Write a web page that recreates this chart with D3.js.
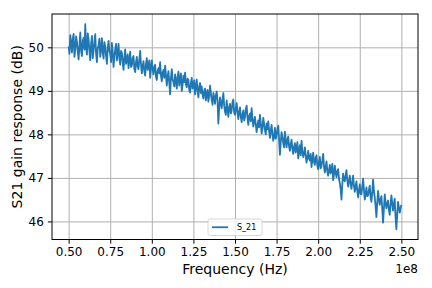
<!DOCTYPE html>
<html>
<head>
<meta charset="utf-8">
<script src="https://cdn.jsdelivr.net/npm/d3@7"></script>
<style>
  body { margin: 0; background: #fff; }
  svg { display: block; font-family: "DejaVu Sans", sans-serif; }
</style>
</head>
<body>
<script>
// sweep: 0.5e8 .. 2.5e8 Hz, 0.5 MHz step
var freqStart = 0.5e8
var freqStep = 0.5e6

// S21 (dB), 20 values per row = 10 MHz
var s21 = [
  50.02, 49.85, 50.28, 50.10, 49.88, 50.20, 50.31, 49.78, 49.95, 50.25, 50.12, 49.90, 49.72, 50.05, 50.34, 49.92, 49.80, 50.15, 50.22, 49.95,
  50.53, 49.98, 49.83, 50.32, 50.18, 49.90, 49.70, 50.08, 50.26, 49.75, 49.92, 50.14, 50.30, 49.85, 49.66, 49.98, 50.05, 50.20, 49.78, 49.95,
  50.21, 49.88, 49.74, 50.12, 50.02, 49.80, 49.62, 49.98, 50.15, 49.92, 49.85, 49.66, 50.10, 49.90, 49.55, 49.78, 49.96, 50.08, 49.70, 49.86,
  50.08, 49.75, 49.60, 49.92, 49.88, 49.65, 49.48, 49.78, 49.95, 49.62, 49.70, 49.84, 49.52, 49.68, 49.90, 49.55, 49.58, 49.76, 49.80, 49.50,
  49.43, 49.66, 49.78, 49.55, 49.50, 49.72, 49.92, 49.60, 49.40, 49.58, 49.68, 49.45, 49.35, 49.62, 49.75, 49.48, 49.56, 49.70, 49.30, 49.52,
  49.70, 49.50, 49.38, 49.55, 49.60, 49.32, 49.25, 49.46, 49.52, 49.40, 49.66, 49.35, 49.22, 49.42, 49.48, 49.30, 49.58, 49.36, 49.12, 49.34,
  49.45, 49.18, 48.92, 49.30, 49.50, 49.26, 49.20, 49.10, 49.38, 49.22, 49.05, 49.32, 49.44, 49.12, 49.28, 49.40, 49.00, 49.15, 49.35, 49.20,
  49.42, 49.15, 49.08, 49.28, 49.25, 49.02, 48.96, 49.18, 49.30, 49.05, 49.12, 49.24, 48.92, 49.08, 49.26, 49.00, 48.85, 49.10, 49.18, 48.95,
  49.10, 48.92, 48.82, 49.00, 49.05, 48.78, 48.90, 49.02, 48.75, 48.88, 49.12, 48.95, 48.80, 48.68, 48.95, 48.84, 48.70, 48.90, 48.98, 48.78,
  48.25, 48.62, 48.85, 48.70, 48.60, 48.80, 48.95, 48.66, 48.52, 48.45, 48.78, 48.58, 48.40, 48.62, 48.70, 48.48, 48.55, 48.74, 48.80, 48.50,
  48.45, 48.60, 48.72, 48.50, 48.35, 48.52, 48.62, 48.40, 48.28, 48.46, 48.55, 48.32, 48.40, 48.58, 48.66, 48.38, 48.22, 48.42, 48.48, 48.30,
  48.60, 48.36, 48.18, 48.30, 48.40, 48.22, 48.05, 48.20, 48.32, 48.16, 48.45, 48.26, 48.02, 48.14, 48.38, 48.24, 48.10, 48.00, 48.25, 48.12,
  48.30, 48.08, 47.92, 48.10, 48.22, 48.00, 47.85, 47.96, 48.15, 47.90, 47.98, 48.12, 48.20, 47.88, 47.53, 47.82, 48.05, 47.94, 47.80, 47.70,
  48.06, 47.84, 47.70, 47.88, 47.95, 47.72, 47.62, 47.78, 47.88, 47.66, 47.55, 47.70, 47.80, 47.58, 47.68, 47.82, 47.45, 47.60, 47.75, 47.52,
  47.85, 47.62, 47.48, 47.56, 47.70, 47.50, 47.35, 47.48, 47.62, 47.44, 47.40, 47.55, 47.25, 47.42, 47.58, 47.36, 47.30, 47.46, 47.52, 47.28,
  47.20, 47.36, 47.48, 47.22, 47.28, 47.40, 47.55, 47.26, 47.12, 47.24, 47.38, 47.15, 47.05, 47.18, 47.30, 47.10, 47.18, 47.32, 46.95, 47.08,
  47.28, 47.12, 47.02, 47.15, 47.20, 46.98, 46.88, 46.75, 46.50, 46.85, 47.10, 46.96, 46.92, 47.06, 47.18, 46.94, 46.80, 46.92, 47.05, 46.86,
  46.75, 46.90, 47.05, 46.82, 46.68, 46.80, 46.92, 46.70, 46.55, 46.72, 46.85, 46.64, 46.62, 46.80, 46.98, 46.74, 46.50, 46.62, 46.78, 46.58,
  46.60, 46.72, 46.82, 46.56, 46.45, 46.66, 46.96, 46.70, 46.55, 46.35, 46.10, 46.42, 46.70, 46.52, 46.38, 46.50, 46.58, 46.30, 45.97, 46.28,
  46.62, 46.44, 46.30, 46.40, 46.48, 46.26, 46.15, 46.38, 46.60, 46.42, 46.25, 46.40, 46.52, 46.10, 45.82, 46.15, 46.45, 46.32, 46.20, 46.30,
  46.38
]

var xTicks = [0.5e8, 0.75e8, 1.0e8, 1.25e8, 1.5e8, 1.75e8, 2.0e8, 2.25e8, 2.5e8]
var yTicks = [46, 47, 48, 49, 50]

var data = s21.map(function(v, i) { return {f: freqStart + i * freqStep, v: v} })

var screen = {width: 432, height: 288}
var margins = {top: 14, bottom: 48.5, left: 52, right: 14}
var width = screen.width - margins.left - margins.right
var height = screen.height - margins.top - margins.bottom

// matplotlib style 5% padding
var fx = d3.extent(data, function(d) { return d.f })
var fy = d3.extent(data, function(d) { return d.v })
var px = (fx[1] - fx[0]) * 0.05
var py = (fy[1] - fy[0]) * 0.05

var xScale = d3.scaleLinear().domain([fx[0] - px, fx[1] + px]).range([0, width])
var yScale = d3.scaleLinear().domain([fy[0] - py, fy[1] + py]).range([height, 0])

var svg = d3.select("body").append("svg")
  .attr("width", screen.width)
  .attr("height", screen.height)

var g = svg.append("g")
  .attr("transform", "translate(" + margins.left + "," + margins.top + ")")

// grid
g.append("g")
  .attr("class", "grid")
  .attr("transform", "translate(0," + height + ")")
  .call(d3.axisBottom(xScale).tickValues(xTicks).tickSize(-height).tickFormat(""))
g.append("g")
  .attr("class", "grid")
  .call(d3.axisLeft(yScale).tickValues(yTicks).tickSize(-width).tickFormat(""))
g.selectAll(".grid .domain").remove()
g.selectAll(".grid line").attr("stroke", "#b0b0b0").attr("stroke-width", 1)

// the line
var line = d3.line()
  .x(function(d) { return xScale(d.f) })
  .y(function(d) { return yScale(d.v) })

g.append("path")
  .datum(data)
  .attr("fill", "none")
  .attr("stroke", "#1f77b4")
  .attr("stroke-width", 1.8)
  .attr("stroke-linejoin", "round")
  .attr("d", line)

// axes
var xAxis = g.append("g")
  .attr("transform", "translate(0," + height + ")")
  .call(d3.axisBottom(xScale).tickValues(xTicks).tickSize(4.2).tickPadding(4)
    .tickFormat(function(d) { return (d / 1e8).toFixed(2) }))
var yAxis = g.append("g")
  .call(d3.axisLeft(yScale).tickValues(yTicks).tickSize(4.2).tickPadding(4)
    .tickFormat(d3.format("d")))

svg.selectAll(".tick text")
  .attr("font-family", "DejaVu Sans")
  .attr("font-size", 12)
  .attr("fill", "#000")
svg.selectAll(".tick line").attr("stroke-width", 1)
xAxis.select(".domain").remove()
yAxis.select(".domain").remove()

// spines
g.append("rect")
  .attr("width", width)
  .attr("height", height)
  .attr("fill", "none")
  .attr("stroke", "#000")
  .attr("stroke-width", 1)

// offset text
g.append("text")
  .attr("x", width)
  .attr("y", height + 33)
  .attr("text-anchor", "end")
  .attr("font-size", 12)
  .text("1e8")

// axis labels
svg.append("text")
  .attr("x", margins.left + width / 2)
  .attr("y", margins.top + height + 34.5)
  .attr("text-anchor", "middle")
  .attr("font-size", 14)
  .text("Frequency (Hz)")

svg.append("text")
  .attr("transform", "translate(21.5," + (margins.top + height / 2) + ") rotate(-90)")
  .attr("text-anchor", "middle")
  .attr("font-size", 14)
  .text("S21 gain response (dB)")

// legend, lower center
var lg = g.append("g")
  .attr("transform", "translate(" + (width / 2 - 27) + "," + (height - 20.5) + ")")
lg.append("rect")
  .attr("width", 54)
  .attr("height", 16.5)
  .attr("rx", 2)
  .attr("fill", "#fff")
  .attr("fill-opacity", 0.8)
  .attr("stroke", "#cccccc")
  .attr("stroke-width", 0.8)
lg.append("line")
  .attr("x1", 4).attr("x2", 20)
  .attr("y1", 8.25).attr("y2", 8.25)
  .attr("stroke", "#1f77b4")
  .attr("stroke-width", 1.8)
lg.append("text")
  .attr("x", 29)
  .attr("y", 11.2)
  .attr("font-size", 8)
  .text("S_21")
</script>
</body>
</html>
